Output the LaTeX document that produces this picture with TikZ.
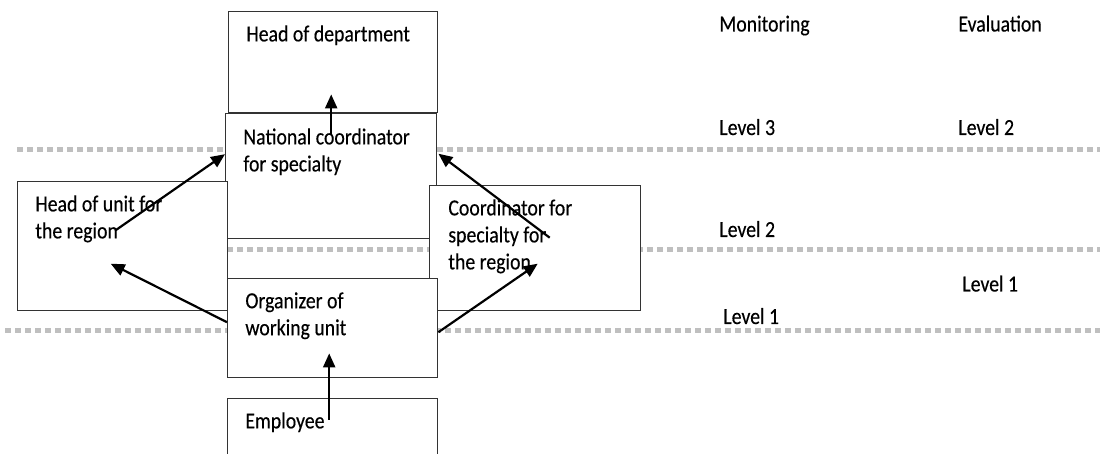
\documentclass[tikz,border=0pt]{standalone}
\usepackage{fontspec}
\setmainfont{Carlito}[FakeStretch=0.86,FakeBold=0.3]
\usepackage{tikz}
\usetikzlibrary{positioning,arrows.meta,calc}
\definecolor{sepgray}{HTML}{BFBFBF}
\definecolor{boxline}{HTML}{333333}
\tikzset{
    every node/.style={font=\fontsize{11.5}{13.5}\selectfont},
    orgbox/.style={rectangle,draw=boxline,fill=white,line width=0.7pt,inner sep=0pt,anchor=north west},
    boxtext/.style={inner sep=0pt,align=left},
    leveltext/.style={inner sep=0pt,anchor=base west},
    separator/.style={draw=sepgray,line width=2.5pt,dash pattern=on 3pt off 2pt},
    link/.style={draw,-{Triangle[length=7pt,width=6pt]},line width=1.1pt}
}
\begin{document}
\begin{tikzpicture}[x=0.5pt,y=-0.5pt]
\useasboundingbox (0,0) rectangle (1100,454);
% level separators
\draw[separator] (17,150) -- (1100,150);
\draw[separator] (17,250) -- (1100,250);
\draw[separator] (5,331) -- (1100,331);
% boxes
\node[orgbox,minimum width=104.5pt,minimum height=50.5pt] (hod) at (228,11) {};
\node[orgbox,minimum width=105.5pt,minimum height=62.5pt] (nat) at (225,113) {};
\node[orgbox,minimum width=105pt,minimum height=64.5pt] (hou) at (17,181) {};
\node[orgbox,minimum width=105.5pt,minimum height=62.5pt] (coord) at (429,185) {};
\node[orgbox,minimum width=105pt,minimum height=49.5pt] (org) at (227,278) {};
\node[orgbox,minimum width=105pt,minimum height=40pt] (emp) at (227,398) {};
% box texts
\node[boxtext,below right=7pt and 9pt of hod.north west] (hodtext) {Head of department};
\node[boxtext,below right=7.5pt and 9pt of nat.north west] (nattext) {National coordinator\\for specialty};
\node[boxtext,below right=7pt and 9pt of hou.north west] (houtext) {Head of unit for\\the region};
\node[boxtext,below right=7pt and 9.5pt of coord.north west] (coordtext) {Coordinator for\\specialty for\\the region};
\node[boxtext,below right=7pt and 9pt of org.north west] (orgtext) {Organizer of\\working unit};
\node[boxtext,below right=7pt and 9pt of emp.north west] (emptext) {Employee};
% level columns
\node[leveltext] (mon) at (719,31.5) {Monitoring};
\node[leveltext] (eval) at (958,31.5) {Evaluation};
\node[leveltext] (monthree) at (719,135) {Level 3};
\node[leveltext] (evaltwo) at (958,135) {Level 2};
\node[leveltext] (montwo) at (719,237) {Level 2};
\node[leveltext] (evalone) at (962,291.5) {Level 1};
\node[leveltext] (monone) at (723,324) {Level 1};
% arrows
\draw[link] ($(nat.north)+(0,22)$) -- ($(hod.south -| nat.north)+(0,-19)$);
\draw[link] ($(hou.center)+(-7,-16)$) -- ($(nat.west)+(0,-22)$);
\draw[link] ($(org.west)+(0,-6)$) -- ($(hou.center)+(-12,17.5)$);
\draw[link] ($(coord.center)+(14.5,-10.5)$) -- ($(nat.east)+(1,-22.5)$);
\draw[link] ($(org.east)+(0,4)$) -- ($(coord.center)+(2.5,15.5)$);
\draw[link] ($(emp.north)+(-3.5,22)$) -- ($(org.south)+(-3.5,-25)$);
\end{tikzpicture}
\end{document}
